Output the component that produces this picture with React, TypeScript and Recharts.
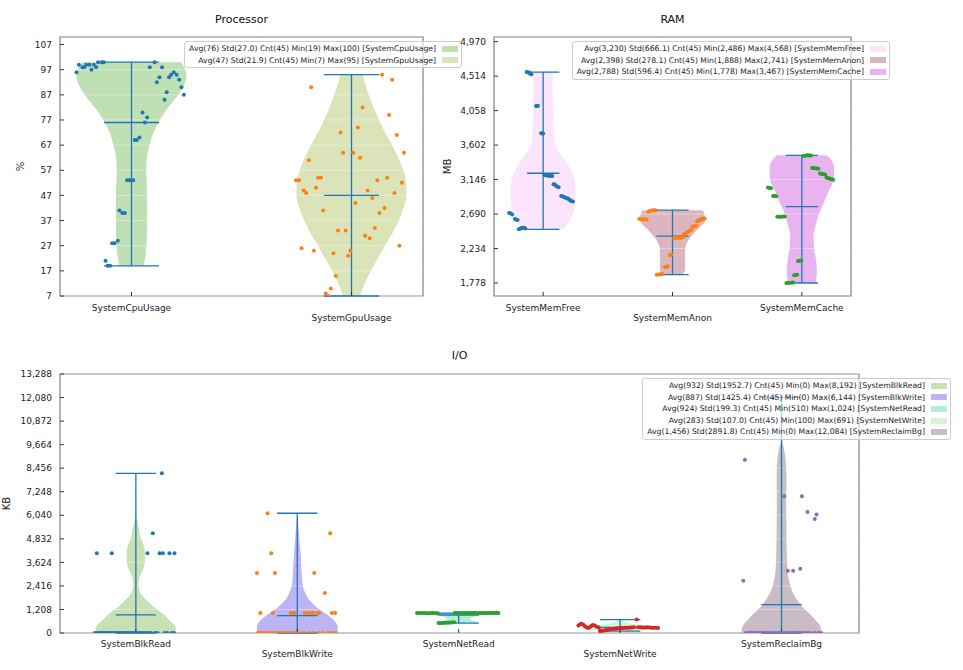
import React from 'react';
import {
  Area,
  ComposedChart,
  Legend,
  ReferenceArea,
  ReferenceLine,
  Scatter,
  XAxis,
  YAxis,
} from 'recharts';

const FONT = '"DejaVu Sans", sans-serif';
const WHISKER = '#1f77b4';
const FRAME = '#808080';

// ---------- Processor ----------
const procNames = ['SystemCpuUsage', 'SystemGpuUsage'];
const procAvg = [76, 47];
const procStd = [27.0, 21.9];
const procCnt = [45, 45];
const procMin = [19, 7];
const procMax = [100, 95];
const procTicks = [7, 17, 27, 37, 47, 57, 67, 77, 87, 97, 107];
const procFills = ['#bfe0b4', '#dae4b8'];
const procDots = ['#1f77b4', '#ff7f0e'];

const cpuLevels = [19, 22, 27, 32, 37, 42, 47, 52, 57, 62, 67, 72, 76, 80, 85, 90, 95, 98, 100];
const cpuHalf = [0.055, 0.062, 0.068, 0.07, 0.071, 0.071, 0.071, 0.069, 0.067, 0.07, 0.082, 0.1, 0.122, 0.15, 0.195, 0.235, 0.25, 0.24, 0.225];
const gpuLevels = [7, 12, 17, 22, 27, 32, 37, 42, 47, 52, 57, 62, 67, 72, 77, 82, 87, 92, 95];
const gpuHalf = [0.038, 0.06, 0.088, 0.12, 0.152, 0.186, 0.215, 0.236, 0.25, 0.248, 0.236, 0.212, 0.185, 0.152, 0.125, 0.1, 0.078, 0.06, 0.05];

const cpuX = [0.75, 0.761, 0.777, 0.785, 0.794, 0.809, 0.818, 0.829, 0.839, 0.848, 0.865, 0.874, 1.105, 1.083, 1.139, 1.115, 1.127, 1.15, 1.16, 1.171, 1.18, 1.192, 1.205, 1.217, 1.227, 1.238, 1.05, 1.071, 1.061, 1.015, 1.024, 1.036, 0.98, 0.991, 0.998, 1.008, 0.945, 0.958, 0.97, 0.912, 0.923, 0.938, 0.882, 0.891, 0.903];
const cpuY = [96, 99, 98, 98, 99, 99, 97, 99, 98, 100, 100, 100, 100, 98, 98, 92, 94, 85, 88, 94, 95, 96, 95, 93, 90, 87, 80, 78, 76, 69, 69, 70, 53, 53, 53, 53, 41, 40, 40, 28, 28, 29, 21, 19, 19];
const gpuX = [2.139, 2.185, 1.817, 2.05, 2.171, 2.029, 2.206, 1.95, 1.962, 2.008, 2.239, 2.039, 1.806, 1.748, 1.761, 1.848, 1.861, 2.117, 2.162, 2.229, 1.783, 1.794, 1.839, 2.073, 2.195, 2.095, 2.018, 1.871, 2.15, 2.127, 1.939, 1.973, 2.106, 2.062, 2.083, 1.773, 1.829, 2.218, 1.995, 1.918, 1.985, 1.929, 1.906, 1.883, 1.895];
const gpuY = [95, 93, 90, 82, 79, 74, 71, 72, 64, 64, 64, 62, 61, 53, 53, 54, 54, 53, 54, 52, 49, 48, 50, 49, 48, 46, 44, 41, 42, 40, 33, 33, 34, 31, 30, 26, 25, 27, 25, 24, 23, 15, 10, 8, 7];

// ---------- RAM ----------
const ramNames = ['SystemMemFree', 'SystemMemAnon', 'SystemMemCache'];
const ramAvg = [3230, 2398, 2788];
const ramStd = [666.1, 278.1, 596.4];
const ramCnt = [45, 45, 45];
const ramMin = [2486, 1888, 1778];
const ramMax = [4568, 2741, 3467];
const ramTicks = [1778, 2234, 2690, 3146, 3602, 4058, 4514, 4970];
const ramFills = ['#fce4fc', '#dcb6bf', '#e9b3f0'];
const ramDots = ['#1f77b4', '#ff7f0e', '#2ca02c'];

const freeLevels = [2486, 2567, 2700, 2876, 3052, 3228, 3405, 3580, 3760, 4000, 4300, 4568];
const freeHalf = [0.155, 0.193, 0.232, 0.25, 0.25, 0.227, 0.167, 0.1, 0.082, 0.077, 0.074, 0.072];
const anonLevels = [1888, 1950, 2082, 2214, 2347, 2479, 2611, 2700, 2741];
const anonHalf = [0.075, 0.097, 0.098, 0.097, 0.124, 0.188, 0.252, 0.245, 0.232];
const cacheLevels = [1778, 1850, 1950, 2100, 2234, 2400, 2550, 2700, 2850, 3000, 3146, 3300, 3400, 3467];
const cacheHalf = [0.11, 0.113, 0.116, 0.108, 0.095, 0.09, 0.108, 0.134, 0.172, 0.21, 0.245, 0.25, 0.23, 0.19];

const freeX = [0.737, 0.748, 0.76, 0.782, 0.792, 0.802, 0.812, 0.822, 0.832, 0.842, 0.852, 0.862, 0.872, 0.882, 0.892, 0.9, 0.91, 0.945, 0.952, 0.96, 0.985, 0.992, 1.0, 1.01, 1.02, 1.03, 1.04, 1.05, 1.06, 1.07, 1.08, 1.09, 1.1, 1.11, 1.12, 1.14, 1.15, 1.16, 1.17, 1.18, 1.19, 1.2, 1.21, 1.22, 1.23];
const freeY = [2705, 2700, 2685, 2625, 2615, 2610, 2490, 2495, 2505, 2508, 2510, 2500, 4568, 4566, 4562, 4545, 4540, 4120, 4118, 4121, 3760, 3757, 3755, 3205, 3203, 3200, 3198, 3197, 3195, 3193, 3085, 3080, 3060, 3050, 3045, 2930, 2925, 2915, 2910, 2900, 2895, 2885, 2870, 2860, 2855];
const anonX = [1.743, 1.758, 1.772, 1.786, 1.8, 1.812, 1.826, 1.84, 1.855, 1.868, 1.878, 1.892, 1.906, 1.92, 1.942, 1.952, 1.965, 1.978, 1.99, 2.013, 2.026, 2.04, 2.053, 2.066, 2.078, 2.086, 2.098, 2.11, 2.122, 2.134, 2.145, 2.152, 2.162, 2.172, 2.182, 2.19, 2.196, 2.203, 2.209, 2.216, 2.222, 2.229, 2.235, 2.242, 2.248];
const anonY = [2625, 2622, 2620, 2618, 2615, 2722, 2730, 2738, 2741, 2740, 1888, 1890, 1893, 1896, 1990, 1994, 1998, 2145, 2150, 2372, 2374, 2375, 2376, 2378, 2380, 2420, 2430, 2445, 2460, 2470, 2480, 2520, 2525, 2530, 2535, 2595, 2600, 2605, 2610, 2615, 2620, 2625, 2628, 2630, 2632];
const cacheX = [2.738, 2.75, 2.762, 2.778, 2.79, 2.802, 2.81, 2.825, 2.84, 2.855, 2.868, 2.88, 2.893, 2.906, 2.919, 2.932, 2.94, 2.952, 2.964, 2.97, 2.983, 2.996, 3.01, 3.022, 3.034, 3.046, 3.058, 3.07, 3.08, 3.092, 3.104, 3.116, 3.128, 3.14, 3.15, 3.16, 3.17, 3.18, 3.19, 3.198, 3.206, 3.214, 3.222, 3.232, 3.242];
const cacheY = [3040, 3035, 3030, 2930, 2928, 2926, 2655, 2655, 2655, 2656, 2658, 1778, 1779, 1780, 1781, 1783, 1880, 1884, 1888, 2070, 2073, 2076, 3458, 3462, 3465, 3467, 3466, 3465, 3300, 3298, 3295, 3292, 3290, 3225, 3222, 3220, 3216, 3212, 3175, 3170, 3165, 3160, 3155, 3150, 3145];

// ---------- I/O ----------
const ioNames = ['SystemBlkRead', 'SystemBlkWrite', 'SystemNetRead', 'SystemNetWrite', 'SystemReclaimBg'];
const ioAvg = [932, 887, 924, 283, 1456];
const ioStd = [1952.7, 1425.4, 199.3, 107.0, 2891.8];
const ioCnt = [45, 45, 45, 45, 45];
const ioMin = [0, 0, 510, 100, 0];
const ioMax = [8192, 6144, 1024, 691, 12084];
const ioTicks = [0, 1208, 2416, 3624, 4832, 6040, 7248, 8456, 9664, 10872, 12080, 13288];
const ioFills = ['#c8e0b4', '#bcb4f4', '#b3ecd9', '#d3f7cc', '#c9bcc5'];
const ioDots = ['#1f77b4', '#ff7f0e', '#2ca02c', '#d62728', '#9467bd'];

const blkReadLevels = [0, 330, 670, 1010, 1350, 1700, 2040, 2380, 2720, 3060, 3400, 3750, 4100, 4450, 4780, 5120, 5460, 5800, 6150, 8192];
const blkReadHalf = [0.248, 0.245, 0.205, 0.163, 0.11, 0.064, 0.03, 0.017, 0.019, 0.033, 0.05, 0.056, 0.057, 0.05, 0.035, 0.024, 0.017, 0.008, 0.002, 0];
const blkWriteLevels = [0, 325, 667, 1010, 1352, 1695, 2037, 2380, 3064, 3749, 4434, 5119, 5803, 6144];
const blkWriteHalf = [0.25, 0.25, 0.225, 0.173, 0.116, 0.074, 0.05, 0.035, 0.027, 0.023, 0.017, 0.01, 0.004, 0];
const netReadLevels = [510, 600, 700, 800, 900, 970, 1024];
const netReadHalf = [0.12, 0.1, 0.07, 0.08, 0.14, 0.22, 0.25];
const netWriteLevels = [100, 150, 200, 250, 300, 350, 400, 450, 500, 600, 691];
const netWriteHalf = [0.1, 0.16, 0.22, 0.25, 0.24, 0.19, 0.14, 0.1, 0.06, 0.02, 0.005];
const reclaimLevels = [0, 325, 667, 1010, 1352, 1695, 2037, 2380, 3064, 3920, 4776, 6488, 8200, 9000, 9500, 9900, 12084];
const reclaimHalf = [0.248, 0.242, 0.21, 0.17, 0.128, 0.097, 0.072, 0.056, 0.039, 0.033, 0.031, 0.029, 0.03, 0.024, 0.014, 0.003, 0];

const blkReadX = [0.758, 0.851, 1.072, 1.147, 1.167, 1.208, 1.239, 1.105, 1.161, 0.746, 0.76, 0.773, 0.785, 0.792, 0.806, 0.818, 0.83, 0.839, 0.853, 0.866, 0.874, 0.889, 0.9, 0.912, 0.925, 0.933, 0.948, 0.96, 0.971, 0.983, 0.996, 1.007, 1.02, 1.031, 1.045, 1.058, 1.066, 1.081, 1.094, 1.12, 1.135, 1.178, 1.195, 1.222, 1.236];
const blkReadY = [4096, 4096, 4096, 4096, 4096, 4096, 4096, 5120, 8192, 0, 0, 0, 0, 0, 0, 0, 0, 0, 0, 0, 0, 0, 0, 0, 0, 0, 0, 0, 0, 0, 0, 0, 0, 0, 0, 0, 0, 0, 0, 0, 0, 0, 0, 0, 0];
const blkWriteX = [1.816, 2.204, 1.839, 1.75, 1.862, 2.105, 2.171, 1.771, 1.849, 1.96, 1.971, 1.981, 2.047, 2.064, 2.085, 2.1, 2.126, 2.136, 2.215, 2.235, 1.755, 1.768, 1.779, 1.795, 1.812, 1.826, 1.84, 1.858, 1.87, 1.884, 1.9, 1.915, 1.93, 1.952, 1.975, 1.99, 2.01, 2.04, 2.07, 2.1, 2.13, 2.16, 2.19, 2.215, 2.238];
const blkWriteY = [6144, 5120, 4096, 3072, 3072, 3072, 2048, 1024, 1024, 1024, 1024, 1024, 1024, 1024, 1024, 1024, 1024, 1024, 1024, 1024, 0, 0, 0, 0, 0, 0, 0, 0, 0, 0, 0, 0, 0, 0, 0, 0, 0, 0, 0, 0, 0, 0, 0, 0, 0];
const netReadX = [2.742, 2.756, 2.77, 2.784, 2.798, 2.812, 2.826, 2.84, 2.855, 2.87, 2.875, 2.887, 2.899, 2.911, 2.923, 2.935, 2.947, 2.959, 2.971, 2.975, 2.986, 2.997, 3.008, 3.019, 3.03, 3.041, 3.052, 3.063, 3.074, 3.085, 3.096, 3.107, 3.118, 3.129, 3.14, 3.151, 3.162, 3.173, 3.184, 3.195, 3.206, 3.217, 3.228, 3.238, 3.246];
const netReadY = [1024, 1024, 1020, 1024, 1024, 1016, 1024, 1024, 1024, 1012, 510, 512, 515, 520, 526, 532, 540, 545, 548, 1020, 1024, 1024, 1024, 1018, 1024, 1024, 1024, 1010, 1024, 1024, 1024, 1024, 1016, 1024, 1024, 1024, 1024, 1008, 1024, 1024, 1024, 1024, 1020, 1024, 1024];
const netWriteX = [3.742, 3.752, 3.762, 3.772, 3.782, 3.792, 3.802, 3.812, 3.822, 3.832, 3.842, 3.855, 3.868, 3.875, 3.886, 3.897, 3.908, 3.919, 3.93, 3.941, 3.952, 3.963, 3.974, 3.985, 3.996, 4.007, 4.018, 4.029, 4.04, 4.051, 4.062, 4.073, 4.086, 4.103, 4.112, 4.124, 4.136, 4.148, 4.16, 4.172, 4.184, 4.196, 4.208, 4.22, 4.235];
const netWriteY = [380, 450, 470, 420, 350, 300, 260, 300, 360, 410, 380, 320, 280, 100, 110, 120, 140, 160, 180, 200, 210, 220, 230, 240, 250, 255, 260, 265, 270, 275, 280, 285, 290, 691, 295, 290, 285, 280, 285, 290, 280, 275, 270, 265, 260];
const reclaimX = [4.773, 5.017, 5.126, 5.161, 5.217, 5.206, 5.039, 5.072, 5.116, 4.763, 4.96, 4.78, 4.795, 4.808, 4.82, 4.834, 4.846, 4.86, 4.873, 4.886, 4.9, 4.913, 4.926, 4.94, 4.953, 4.966, 4.98, 4.993, 5.006, 5.02, 5.033, 5.046, 5.06, 5.073, 5.086, 5.1, 5.113, 5.126, 5.14, 5.153, 5.166, 5.18, 5.205, 5.228, 5.245];
const reclaimY = [8885, 7020, 7020, 6214, 6077, 5855, 3200, 3200, 3302, 2686, 12084, 0, 0, 0, 0, 0, 0, 0, 0, 0, 0, 0, 0, 0, 0, 0, 0, 0, 0, 0, 0, 0, 0, 0, 0, 0, 0, 0, 0, 0, 0, 0, 0, 0, 0];

const fmt = (n: number) => n.toLocaleString('en-US');

type PanelSpec = {
  names: string[];
  avg: number[];
  std: number[];
  cnt: number[];
  min: number[];
  max: number[];
  fills: string[];
  dotColors: string[];
  levels: number[][];
  halves: number[][];
  dotX: number[][];
  dotY: number[][];
  yTicks: number[];
  yDomain: [number, number];
  xDomain: [number, number];
  yLabel: string;
  labelOffset: number;
  width: number;
  height: number;
  marginTop: number;
  marginRight: number;
  yWidth: number;
  xHeight: number;
  rowGap: [number, number];
  legendRight: number;
  legendTop: number;
};

function buildViolinTable(spec: PanelSpec) {
  const all = Array.from(new Set(spec.levels.flat())).sort((a, b) => a - b);
  return all.map((v) => {
    const row: Record<string, unknown> = { v };
    spec.names.forEach((name, i) => {
      const k = spec.levels[i].indexOf(v);
      const pos = i + 1;
      row[name] = k >= 0 ? [pos - spec.halves[i][k], pos + spec.halves[i][k]] : [null, null];
    });
    return row;
  });
}

function NameTick(props: any) {
  const { x, y, payload, names, rowGap } = props;
  const i = Math.round(payload.value) - 1;
  return (
    <text
      x={x}
      y={y + (i % 2 === 0 ? rowGap[0] : rowGap[1])}
      textAnchor="middle"
      dominantBaseline="central"
      fontSize={9}
      fill="#222"
      fontFamily={FONT}
    >
      {names[i]}
    </text>
  );
}

function StatsBox({ spec }: { spec: PanelSpec }) {
  return (
    <div
      style={{
        background: 'rgba(255,255,255,0.62)',
        border: '1px solid #cccccc',
        borderRadius: 3,
        padding: '1px 3px 1px 4px',
        fontFamily: FONT,
        fontSize: 7.7,
        color: '#222',
        lineHeight: '11.6px',
      }}
    >
      {spec.names.map((name, i) => (
        <div
          key={name}
          style={{ display: 'flex', justifyContent: 'flex-end', alignItems: 'center', whiteSpace: 'nowrap' }}
        >
          <span>
            {`Avg(${fmt(spec.avg[i])}) Std(${spec.std[i].toFixed(1)}) Cnt(${spec.cnt[i]}) Min(${fmt(spec.min[i])}) Max(${fmt(spec.max[i])}) [${name}]`}
          </span>
          <span style={{ display: 'inline-block', width: 16, height: 6, marginLeft: 6, background: spec.fills[i] }} />
        </div>
      ))}
    </div>
  );
}

function ViolinPanel({ spec }: { spec: PanelSpec }) {
  const table = buildViolinTable(spec);
  const positions = spec.names.map((_, i) => i + 1);
  const W = 0.125;
  return (
    <ComposedChart
      layout="vertical"
      width={spec.width}
      height={spec.height}
      data={table}
      margin={{ top: spec.marginTop, right: spec.marginRight, bottom: 0, left: 0 }}
    >
      <XAxis
        type="number"
        dataKey="p"
        domain={spec.xDomain}
        ticks={positions}
        interval={0}
        allowDataOverflow
        axisLine={false}
        tickSize={-4}
        tickMargin={4}
        tickLine={{ stroke: '#333' }}
        height={spec.xHeight}
        tick={<NameTick names={spec.names} rowGap={spec.rowGap} />}
      />
      <YAxis
        type="number"
        dataKey="v"
        reversed
        domain={spec.yDomain}
        ticks={spec.yTicks}
        interval={0}
        allowDataOverflow
        axisLine={false}
        width={spec.yWidth}
        tickSize={-4}
        tickMargin={12}
        tickLine={{ stroke: '#333' }}
        tickFormatter={fmt}
        tick={{ fontSize: 9, fill: '#222', fontFamily: FONT }}
        label={{
          value: spec.yLabel,
          angle: -90,
          position: 'insideLeft',
          offset: spec.labelOffset,
          style: { textAnchor: 'middle', fontSize: 10, fill: '#222', fontFamily: FONT },
        }}
      />
      {spec.names.map((name, i) => (
        <Area
          key={'violin-' + name}
          dataKey={name}
          type="monotone"
          fill={spec.fills[i]}
          fillOpacity={1}
          stroke="none"
          connectNulls
          dot={false}
          activeDot={false}
          isAnimationActive={false}
        />
      ))}
      {spec.yTicks.map((t) => (
        <ReferenceLine key={'g' + t} y={t} stroke="#ffffff" strokeOpacity={0.45} strokeWidth={0.8} />
      ))}
      {spec.names.map((name, i) => (
        <Scatter
          key={'dots-' + name}
          data={spec.dotX[i].map((p, k) => ({ p, v: spec.dotY[i][k] }))}
          fill={spec.dotColors[i]}
          isAnimationActive={false}
          shape={(p: any) => <circle cx={p.cx} cy={p.cy} r={2} fill={spec.dotColors[i]} />}
        />
      ))}
      {positions.map((pos, i) => (
        <ReferenceLine
          key={'bar' + i}
          segment={[{ x: pos, y: spec.min[i] }, { x: pos, y: spec.max[i] }]}
          stroke={WHISKER}
          strokeWidth={1.3}
        />
      ))}
      {positions.flatMap((pos, i) =>
        [spec.min[i], spec.avg[i], spec.max[i]].map((y, j) => (
          <ReferenceLine
            key={'cap' + i + '-' + j}
            segment={[{ x: pos - W, y }, { x: pos + W, y }]}
            stroke={WHISKER}
            strokeWidth={1.3}
          />
        ))
      )}
      <ReferenceArea
        x1={spec.xDomain[0]}
        x2={spec.xDomain[1]}
        y1={spec.yDomain[0]}
        y2={spec.yDomain[1]}
        fill="none"
        fillOpacity={0}
        stroke={FRAME}
        strokeWidth={1.2}
      />
      <Legend
        layout="horizontal"
        align="center"
        verticalAlign="middle"
        content={() => <StatsBox spec={spec} />}
        wrapperStyle={{ right: spec.legendRight, top: spec.legendTop, left: 'auto', width: 'auto', height: 'auto' }}
      />
    </ComposedChart>
  );
}

const procSpec: PanelSpec = {
  names: procNames, avg: procAvg, std: procStd, cnt: procCnt, min: procMin, max: procMax,
  fills: procFills, dotColors: procDots,
  levels: [cpuLevels, gpuLevels], halves: [cpuHalf, gpuHalf],
  dotX: [cpuX, gpuX], dotY: [cpuY, gpuY],
  yTicks: procTicks, yDomain: [7, 110], xDomain: [0.675, 2.325],
  yLabel: '%', labelOffset: 20,
  width: 470, height: 330, marginTop: 37, marginRight: 47, yWidth: 60, xHeight: 34,
  rowGap: [12, 22], legendRight: 8, legendTop: 41,
};

const ramSpec: PanelSpec = {
  names: ramNames, avg: ramAvg, std: ramStd, cnt: ramCnt, min: ramMin, max: ramMax,
  fills: ramFills, dotColors: ramDots,
  levels: [freeLevels, anonLevels, cacheLevels], halves: [freeHalf, anonHalf, cacheHalf],
  dotX: [freeX, anonX, cacheX], dotY: [freeY, anonY, cacheY],
  yTicks: ramTicks, yDomain: [1606, 5032], xDomain: [0.62, 3.38],
  yLabel: 'MB', labelOffset: 17,
  width: 533, height: 330, marginTop: 37, marginRight: 112, yWidth: 64, xHeight: 34,
  rowGap: [12, 22], legendRight: 73, legendTop: 41,
};

const ioSpec: PanelSpec = {
  names: ioNames, avg: ioAvg, std: ioStd, cnt: ioCnt, min: ioMin, max: ioMax,
  fills: ioFills, dotColors: ioDots,
  levels: [blkReadLevels, blkWriteLevels, netReadLevels, netWriteLevels, reclaimLevels],
  halves: [blkReadHalf, blkWriteHalf, netReadHalf, netWriteHalf, reclaimHalf],
  dotX: [blkReadX, blkWriteX, netReadX, netWriteX, reclaimX],
  dotY: [blkReadY, blkWriteY, netReadY, netWriteY, reclaimY],
  yTicks: ioTicks, yDomain: [0, 13288], xDomain: [0.53, 5.48],
  yLabel: 'KB', labelOffset: 6,
  width: 963, height: 330, marginTop: 34, marginRight: 104, yWidth: 60, xHeight: 37,
  rowGap: [11, 21], legendRight: 12, legendTop: 38,
};

const titleStyle: React.CSSProperties = {
  position: 'absolute',
  fontFamily: FONT,
  fontSize: 11,
  lineHeight: '14px',
  color: '#111',
  textAlign: 'center',
};

export default function App() {
  return (
    <div style={{ position: 'absolute', left: 0, top: 0, width: 963, height: 670, background: '#fff' }}>
      <div style={{ ...titleStyle, left: 60, width: 363, top: 13 }}>Processor</div>
      <div style={{ ...titleStyle, left: 494, width: 357, top: 13 }}>RAM</div>
      <div style={{ ...titleStyle, left: 60, width: 799, top: 349 }}>I/O</div>
      <div style={{ position: 'absolute', left: 0, top: 0 }}>
        <ViolinPanel spec={procSpec} />
      </div>
      <div style={{ position: 'absolute', left: 430, top: 0 }}>
        <ViolinPanel spec={ramSpec} />
      </div>
      <div style={{ position: 'absolute', left: 0, top: 340 }}>
        <ViolinPanel spec={ioSpec} />
      </div>
    </div>
  );
}
